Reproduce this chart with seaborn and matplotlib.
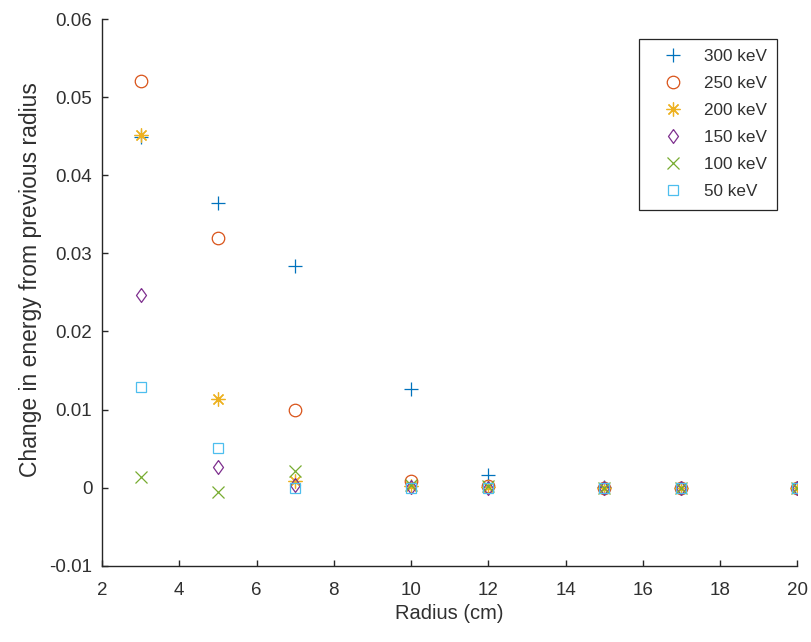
import matplotlib
matplotlib.use("Agg")
import matplotlib.pyplot as plt
import seaborn as sns
import numpy as np

radius = [3, 5, 7, 10, 12, 15, 17, 20]
labels = ["300 keV", "250 keV", "200 keV", "150 keV", "100 keV", "50 keV"]
e300 = [0.0449, 0.0364, 0.0284, 0.0126, 0.0016, 0.0001, 0.0000, 0.0000]
e250 = [0.0520, 0.0320, 0.0100, 0.0009, 0.0002, 0.0000, 0.0000, 0.0000]
e200 = [0.0452, 0.0113, 0.0009, 0.0002, 0.0001, 0.0000, 0.0000, 0.0000]
e150 = [0.0246, 0.0027, 0.0003, 0.0001, 0.0000, 0.0000, 0.0000, 0.0000]
e100 = [0.0014, -0.0005, 0.0021, 0.0003, 0.0002, 0.0000, 0.0000, 0.0000]
e50 = [0.0129, 0.0051, 0.0000, 0.0000, 0.0000, 0.0000, 0.0000, 0.0000]
series = [e300, e250, e200, e150, e100, e50]

colors = ["#0072BD", "#D95319", "#EDB120", "#7E2F8E", "#77AC30", "#4DBEEE"]
diamond = [(0, 1), (0.72, 0), (0, -1), (-0.72, 0), (0, 1)]
markers = ["+", "o", (8, 2, 0), diamond, "x", "s"]
msizes = [10, 9, 10, 10, 9, 7.5]

sns.set_theme(style="white")
plt.rcParams['font.family'] = ['Liberation Sans', 'DejaVu Sans']

fig = plt.figure(figsize=(8.12, 6.42), dpi=100)
ax = fig.add_axes([102/812, (642-565.7)/642, (797.3-102)/812, (565.7-19)/642])

for vals, lab, c, m, ms in zip(series, labels, colors, markers, msizes):
    sns.lineplot(x=radius, y=vals, ax=ax, marker=m, linestyle="", color=c,
                 markerfacecolor="none", markeredgecolor=c, markersize=ms,
                 markeredgewidth=0.9, label=lab)

ax.set_xlim(2, 20)
ax.set_ylim(-0.01, 0.06)
ax.set_xticks(np.arange(2, 21, 2))
ax.set_yticks(np.arange(-0.01, 0.0601, 0.01))
ax.set_yticklabels(["-0.01", "0", "0.01", "0.02", "0.03", "0.04", "0.05", "0.06"])

dark = "#303030"
for side in ["top", "right"]:
    ax.spines[side].set_visible(False)
for side in ["left", "bottom"]:
    ax.spines[side].set_color("#262626")
    ax.spines[side].set_linewidth(1.0)
ax.tick_params(direction="in", length=4, width=1.0, colors="#262626", labelcolor=dark,
               labelsize=13.5, left=True, bottom=True)
ax.tick_params(axis="x", pad=12)
ax.tick_params(axis="y", pad=7)

ax.set_xlabel("Radius (cm)", fontsize=14.5, color=dark, labelpad=3)
ax.set_ylabel("Change in energy from previous radius", fontsize=16.5, color=dark)
ax.yaxis.set_label_coords(-0.0863, 0.5226)

leg = ax.legend(loc="upper right", bbox_to_anchor=(0.971, 0.963), borderaxespad=0,
                frameon=True, fancybox=False, framealpha=1, edgecolor="#262626",
                fontsize=12.3, labelspacing=0.70, handlelength=2.7, handletextpad=0.49,
                borderpad=0.6)
for t in leg.get_texts():
    t.set_color(dark)
leg.get_frame().set_linewidth(0.9)

fig.savefig("out.png", dpi=100, facecolor="white")
